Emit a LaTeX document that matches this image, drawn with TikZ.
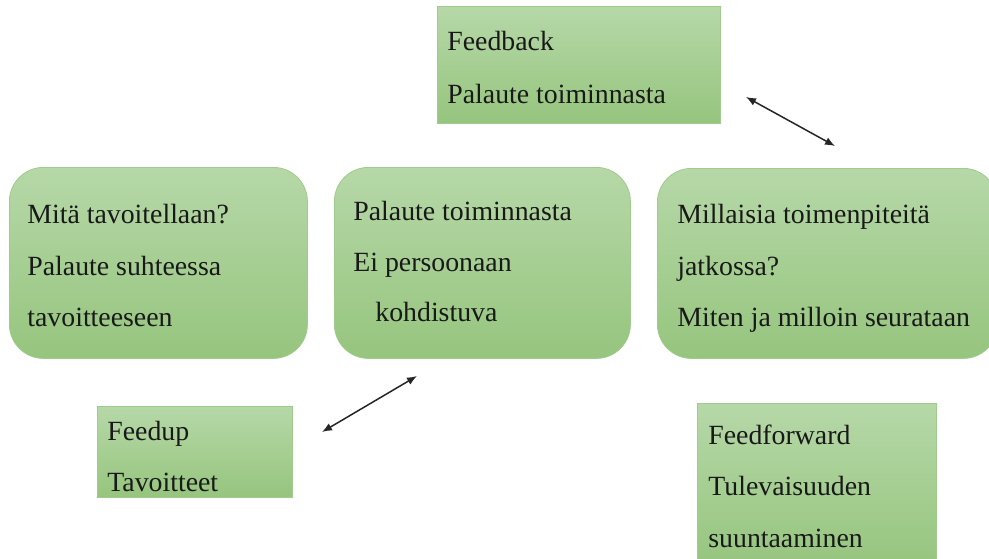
\documentclass[tikz,border=0pt]{standalone}
\usepackage{fontspec}
\setmainfont{Liberation Serif}
\usetikzlibrary{arrows.meta}
\definecolor{gtop}{HTML}{B6D8A8}
\definecolor{gbot}{HTML}{96C57E}
\definecolor{gline}{HTML}{9FCB8C}
\tikzset{
  px/.style={x=0.5pt,y=-0.5pt},
  sqbox/.style={draw=gline,line width=0.4pt,top color=gtop,bottom color=gbot,inner sep=0pt,anchor=north west},
  rbox/.style={sqbox,rounded corners=17pt},
  txt/.style={anchor=base west,inner sep=0pt,font=\fontsize{13.9}{16}\selectfont,text=black!90},
  dblarrow/.style={{Latex[length=5pt,width=4pt]}-{Latex[length=5pt,width=4pt]},line width=0.75pt,black!85}
}
\begin{document}
\begin{tikzpicture}[px]
\useasboundingbox (0,0) rectangle (989,558);
% boxes
\node[sqbox,minimum width=141.5pt,minimum height=58.5pt] (fb) at (437,6) {};
\node[rbox,minimum width=149pt,minimum height=95.5pt] (left) at (9,167) {};
\node[rbox,minimum width=148pt,minimum height=95.5pt] (mid) at (334,167) {};
\node[rbox,minimum width=170pt,minimum height=95pt] (right) at (657,168) {};
\node[sqbox,minimum width=97.5pt,minimum height=45.5pt] (fu) at (97,406) {};
\node[sqbox,minimum width=119.5pt,minimum height=82pt] (ff) at (697,403) {};
% texts
\node[txt] (t1) at (447,50) {Feedback};
\node[txt] (t2) at (447,103) {Palaute toiminnasta};
\node[txt] (t3) at (27,223) {Mitä tavoitellaan?};
\node[txt] (t4) at (27,275) {Palaute suhteessa};
\node[txt] (t5) at (27,326) {tavoitteeseen};
\node[txt] (t6) at (353,220) {Palaute toiminnasta};
\node[txt] (t7) at (353,271) {Ei persoonaan};
\node[txt] (t8) at (375,321) {kohdistuva};
\node[txt] (t9) at (677,223) {Millaisia toimenpiteitä};
\node[txt] (t10) at (677,275) {jatkossa?};
\node[txt] (t11) at (677,326) {Miten ja milloin seurataan};
\node[txt] (t12) at (107,440) {Feedup};
\node[txt] (t13) at (107,491) {Tavoitteet};
\node[txt] (t14) at (708,444) {Feedforward};
\node[txt] (t15) at (708,495) {Tulevaisuuden};
\node[txt] (t16) at (708,547) {suuntaaminen};
% arrows
\coordinate (a1) at (322,432);
\coordinate (a2) at (417,376);
\coordinate (b1) at (746,97);
\coordinate (b2) at (835,146);
\draw[dblarrow] (a1) -- (a2);
\draw[dblarrow] (b1) -- (b2);
\end{tikzpicture}
\end{document}
